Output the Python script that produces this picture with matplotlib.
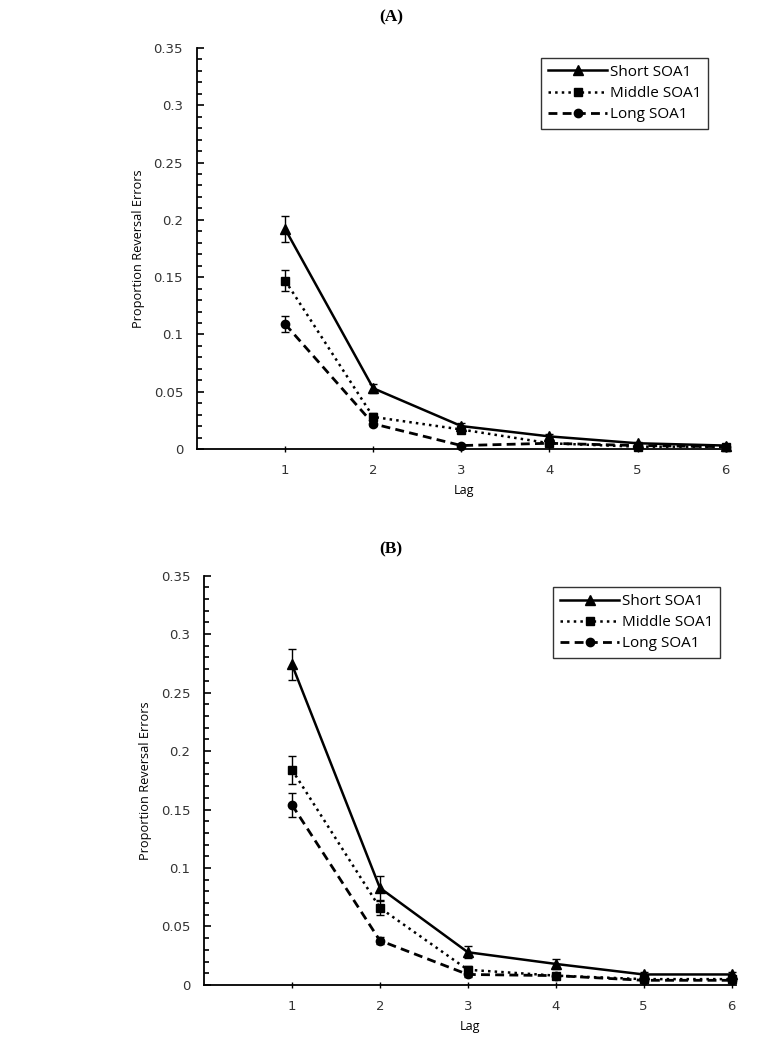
import matplotlib
matplotlib.use("Agg")
import matplotlib.pyplot as plt
from matplotlib.ticker import MultipleLocator

# Datos
lags = [1, 2, 3, 4, 5, 6]
series_names = ["Short SOA1", "Middle SOA1", "Long SOA1"]
y_ticks = [0, 0.05, 0.1, 0.15, 0.2, 0.25, 0.3, 0.35]
y_tick_labels = ["0", "0.05", "0.1", "0.15", "0.2", "0.25", "0.3", "0.35"]

# Panel (A)
a_short = [0.192, 0.053, 0.020, 0.011, 0.005, 0.003]
a_short_err = [0.011, 0.004, 0.003, 0.002, 0.001, 0.001]
a_middle = [0.147, 0.028, 0.017, 0.005, 0.002, 0.002]
a_middle_err = [0.009, 0.003, 0.002, 0.001, 0.001, 0.001]
a_long = [0.109, 0.022, 0.003, 0.005, 0.003, 0.002]
a_long_err = [0.007, 0.002, 0.001, 0.001, 0.001, 0.001]

# Panel (B)
b_short = [0.274, 0.083, 0.028, 0.018, 0.009, 0.009]
b_short_err = [0.013, 0.010, 0.005, 0.004, 0.002, 0.002]
b_middle = [0.184, 0.066, 0.013, 0.008, 0.005, 0.005]
b_middle_err = [0.012, 0.006, 0.003, 0.002, 0.001, 0.001]
b_long = [0.154, 0.038, 0.009, 0.008, 0.004, 0.004]
b_long_err = [0.010, 0.003, 0.002, 0.002, 0.001, 0.001]

TICK_FONT = "DejaVu Sans"
LABEL_FONT = "Open Sans"


def dibujar_panel(ax, valores, errores, legend_xy):
    estilos = [
        dict(marker="^", linestyle="-", lw=1.8, ms=6.5),
        dict(marker="s", linestyle=":", lw=1.8, ms=6),
        dict(marker="o", linestyle=(0, (3.2, 1.9)), lw=2.0, ms=6),
    ]
    for nombre, y, e, st in zip(series_names, valores, errores, estilos):
        # barras de error sin etiqueta, linea con marcador para la leyenda
        ax.errorbar(lags, y, yerr=e, fmt="none", ecolor="black",
                    elinewidth=1.0, capsize=3.2, capthick=1.0, clip_on=False)
        ax.plot(lags, y, color="black", marker=st["marker"], ms=st["ms"],
                linestyle=st["linestyle"], lw=st["lw"], label=nombre,
                clip_on=False)

    ax.set_xlim(0, 6.05)
    ax.set_ylim(0, 0.35)
    ax.set_xticks(lags)
    ax.set_yticks(y_ticks)
    ax.set_yticklabels(y_tick_labels)
    ax.yaxis.set_minor_locator(MultipleLocator(0.01))

    for lado in ["top", "right"]:
        ax.spines[lado].set_visible(False)
    for lado in ["left", "bottom"]:
        ax.spines[lado].set_linewidth(1.3)

    ax.tick_params(axis="y", which="major", direction="in", length=5,
                   width=1.2, pad=10, labelsize=9.5)
    ax.tick_params(axis="y", which="minor", direction="in", length=3.5,
                   width=1.2)
    ax.tick_params(axis="x", which="major", direction="inout", length=5,
                   width=1.0, pad=8, labelsize=9.5)
    for lab in ax.get_xticklabels() + ax.get_yticklabels():
        lab.set_fontfamily(TICK_FONT)
        lab.set_color("#333333")

    ax.set_xlabel("Lag", fontfamily=LABEL_FONT, fontsize=9, labelpad=5)
    ax.set_ylabel("Proportion Reversal Errors", fontfamily=LABEL_FONT,
                  fontsize=9.2, labelpad=6)

    leg = ax.legend(loc="upper left",
                    bbox_to_anchor=legend_xy, bbox_transform=ax.figure.transFigure,
                    borderaxespad=0, frameon=True, fancybox=False,
                    edgecolor="black", handlelength=3.9, handletextpad=0.15,
                    labelspacing=0.4, borderpad=0.45,
                    prop={"family": LABEL_FONT, "size": 11})
    leg.get_frame().set_linewidth(1.0)


fig = plt.figure(figsize=(7.79, 10.52), dpi=100)

ax_a = fig.add_axes([0.2529, 0.5732, 0.6843, 0.3812])
dibujar_panel(ax_a, [a_short, a_middle, a_long],
              [a_short_err, a_middle_err, a_long_err], (0.6945, 0.9449))

ax_b = fig.add_axes([0.2619, 0.0637, 0.6829, 0.3892])
dibujar_panel(ax_b, [b_short, b_middle, b_long],
              [b_short_err, b_middle_err, b_long_err], (0.7099, 0.4420))

fig.text(391 / 779, 1 - 17 / 1052, "(A)", ha="center", va="center",
         fontfamily="Liberation Serif", fontweight="bold", fontsize=12.5)
fig.text(391 / 779, 1 - 549 / 1052, "(B)", ha="center", va="center",
         fontfamily="Liberation Serif", fontweight="bold", fontsize=12.5)

fig.savefig("out.png", dpi=100)
